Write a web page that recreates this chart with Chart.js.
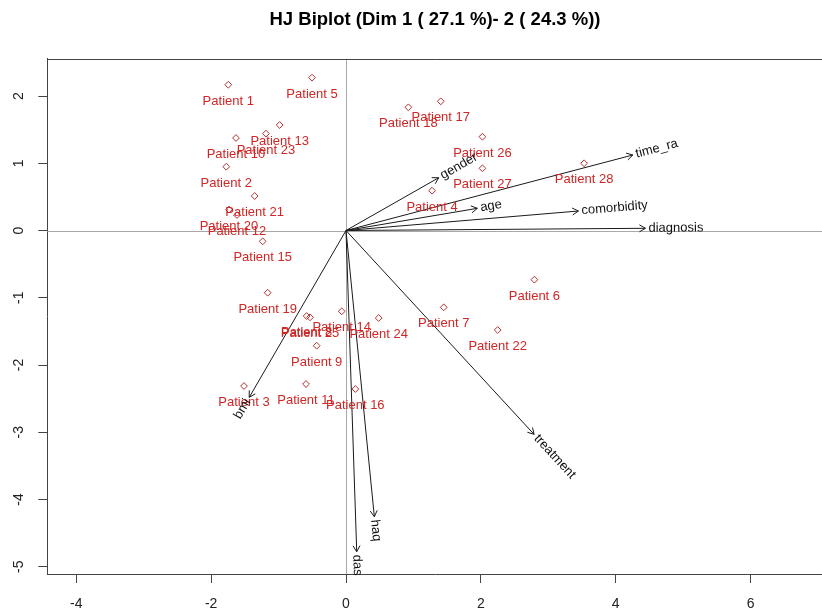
<!DOCTYPE html>
<html><head><meta charset="utf-8">
<script src="https://cdn.jsdelivr.net/npm/chart.js@4.4.1/dist/chart.umd.min.js"></script>
<style>html,body{margin:0;padding:0;overflow:hidden;background:#fff;width:822px;height:611px}canvas{display:block}</style>
</head><body>
<canvas id="c" width="870" height="611"></canvas>
<script>
const titleText = 'HJ Biplot (Dim 1 ( 27.1 %)- 2 ( 24.3 %))';
const patientNames = ['Patient 1','Patient 2','Patient 3','Patient 4','Patient 5','Patient 6','Patient 7','Patient 8','Patient 9','Patient 10','Patient 11','Patient 12','Patient 13','Patient 14','Patient 15','Patient 16','Patient 17','Patient 18','Patient 19','Patient 20','Patient 21','Patient 22','Patient 23','Patient 24','Patient 25','Patient 26','Patient 27','Patient 28'];
const patientX = [-1.746,-1.776,-1.513,1.276,-0.504,2.794,1.449,-0.584,-0.435,-1.632,-0.593,-1.617,-0.984,-0.064,-1.236,0.138,1.405,0.925,-1.162,-1.736,-1.355,2.250,-1.187,0.485,-0.534,2.023,2.023,3.531];
const patientY = [2.168,0.949,-2.313,0.592,2.273,-0.731,-1.143,-1.272,-1.713,1.376,-2.283,0.230,1.569,-1.202,-0.161,-2.357,1.921,1.832,-0.925,0.312,0.513,-1.480,1.440,-1.301,-1.291,1.395,0.925,1.000];
const varNames = ['gender','age','time_ra','comorbidity','diagnosis','treatment','haq','das','bmi'];
const varX = [1.375,1.948,4.254,3.447,4.441,2.789,0.420,0.159,-1.435];
const varY = [0.785,0.330,1.123,0.290,0.033,-3.031,-4.256,-4.777,-2.481];
const xTicks = [-4,-2,0,2,4,6];
const yTicks = [-5,-4,-3,-2,-1,0,1,2];

const FONT = '"Liberation Sans", Arial, sans-serif';
const LABEL_RED = '#d02626';
const POINT_RED = '#b5302e';

const datasets = [{
  label: 'patients',
  data: patientX.map((x, i) => ({x: x, y: patientY[i]})),
  showLine: false,
  pointStyle: 'rectRot',
  pointRadius: 3.4,
  pointBorderWidth: 1,
  pointBorderColor: POINT_RED,
  pointBackgroundColor: 'rgba(0,0,0,0)',
  order: 2
}];
varNames.forEach((n, i) => {
  datasets.push({
    label: n,
    data: [{x: 0, y: 0}, {x: varX[i], y: varY[i]}],
    showLine: true,
    borderColor: '#1a1a1a',
    borderWidth: 1,
    pointRadius: 0,
    order: 1
  });
});

const biplotPlugin = {
  id: 'biplot',
  beforeDatasetsDraw(chart) {
    const {ctx, chartArea: a, scales: {x, y}} = chart;
    ctx.save();
    ctx.strokeStyle = '#a8a8a8';
    ctx.lineWidth = 1;
    const x0 = Math.round(x.getPixelForValue(0)) + 0.5;
    const y0 = Math.round(y.getPixelForValue(0)) + 0.5;
    ctx.beginPath();
    ctx.moveTo(x0, a.top); ctx.lineTo(x0, a.bottom);
    ctx.moveTo(a.left, y0); ctx.lineTo(a.right, y0);
    ctx.stroke();
    ctx.strokeStyle = '#444';
    ctx.beginPath();
    ctx.moveTo(a.left, Math.round(a.top) + 0.5);
    ctx.lineTo(a.right, Math.round(a.top) + 0.5);
    ctx.lineTo(a.right, a.bottom);
    ctx.stroke();
    ctx.restore();
  },
  afterDatasetsDraw(chart) {
    const ctx = chart.ctx;
    ctx.save();
    const pm = chart.getDatasetMeta(0);
    ctx.font = '13px ' + FONT;
    ctx.fillStyle = LABEL_RED;
    ctx.textAlign = 'center';
    ctx.textBaseline = 'middle';
    pm.data.forEach((pt, i) => {
      ctx.fillText(patientNames[i], pt.x, pt.y + 16.5);
    });
    ctx.strokeStyle = '#1a1a1a';
    ctx.lineWidth = 1;
    ctx.fillStyle = '#111';
    varNames.forEach((n, i) => {
      const m = chart.getDatasetMeta(i + 1);
      const p0 = m.data[0], p1 = m.data[1];
      const ang = Math.atan2(p1.y - p0.y, p1.x - p0.x);
      const L = 7, h = Math.PI / 6;
      ctx.beginPath();
      ctx.moveTo(p1.x - L * Math.cos(ang - h), p1.y - L * Math.sin(ang - h));
      ctx.lineTo(p1.x, p1.y);
      ctx.lineTo(p1.x - L * Math.cos(ang + h), p1.y - L * Math.sin(ang + h));
      ctx.stroke();
      const w = ctx.measureText(n).width;
      const d = 3 + w / 2;
      const cx = p1.x + d * Math.cos(ang), cy = p1.y + d * Math.sin(ang);
      let rot = ang;
      if (rot > Math.PI / 2) rot -= Math.PI;
      if (rot < -Math.PI / 2) rot += Math.PI;
      ctx.save();
      ctx.translate(cx, cy);
      ctx.rotate(rot);
      ctx.textAlign = 'center';
      ctx.textBaseline = 'middle';
      ctx.fillText(n, 0, 0);
      ctx.restore();
    });
    ctx.restore();
  }
};

const axisColor = '#444';
new Chart(document.getElementById('c'), {
  type: 'scatter',
  data: {datasets: datasets},
  options: {
    responsive: false,
    animation: false,
    events: [],
    layout: {padding: 0},
    plugins: {
      legend: {display: false},
      tooltip: {enabled: false},
      title: {
        display: true,
        text: titleText,
        color: '#000',
        font: {family: FONT, size: 18.5, weight: 'bold'},
        padding: {top: 9, bottom: 27.5}
      }
    },
    scales: {
      x: {
        type: 'linear', position: 'bottom',
        min: -4.43, max: 7.074,
        afterBuildTicks: s => { s.ticks = xTicks.map(v => ({value: v})); },
        afterFit: s => { s.height = 37; },
        grid: {display: true, drawOnChartArea: false, drawTicks: true, tickLength: 9, color: axisColor},
        border: {display: true, color: axisColor, width: 1},
        ticks: {font: {family: FONT, size: 14}, color: '#222', padding: 13, maxRotation: 0, autoSkip: false}
      },
      y: {
        type: 'linear', position: 'left',
        min: -5.108, max: 2.555,
        afterBuildTicks: s => { s.ticks = yTicks.map(v => ({value: v})); },
        afterFit: s => { s.width = 47.3; },
        grid: {display: true, drawOnChartArea: false, drawTicks: true, tickLength: 9, color: axisColor},
        border: {display: true, color: axisColor, width: 1},
        ticks: {font: {family: FONT, size: 14}, color: '#222', padding: 13, minRotation: 90, maxRotation: 90, crossAlign: 'center', autoSkip: false}
      },
      y2: {
        type: 'linear', position: 'right', axis: 'y',
        afterFit: s => { s.width = 47; },
        grid: {display: false}, border: {display: false}, ticks: {display: false}
      }
    }
  },
  plugins: [biplotPlugin]
});
</script>
</body></html>
